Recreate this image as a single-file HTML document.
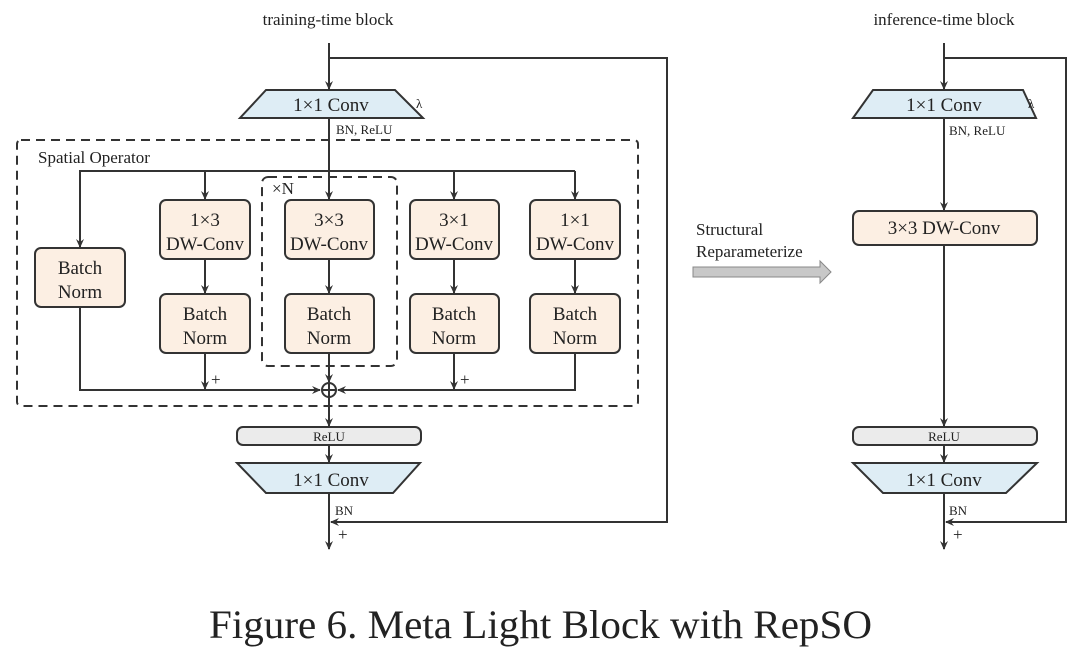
<!DOCTYPE html>
<html><head><meta charset="utf-8"><style>
html,body{margin:0;padding:0;background:#fff;}
svg{display:block;}
text{font-family:"Liberation Serif",serif;fill:#222;}
</style></head><body>
<svg width="1080" height="651" viewBox="0 0 1080 651" xmlns="http://www.w3.org/2000/svg">
<defs>
<marker id="a" markerWidth="10" markerHeight="10" refX="8" refY="5" orient="auto" markerUnits="userSpaceOnUse">
<path d="M0,1 L9,5 L0,9 L3,5 Z" fill="#333"/>
</marker>
</defs>
<g stroke="#333" stroke-width="2" fill="none">
<!-- LEFT -->
<line x1="329" y1="43" x2="329" y2="89" marker-end="url(#a)"/>
<polyline points="329,58 667,58 667,522 331,522" marker-end="url(#a)"/>
<polygon points="266,90 395,90 423,118 240,118" fill="#deedf5"/>
<rect x="17" y="140" width="621" height="266" rx="4" stroke-dasharray="9,6"/>
<rect x="262" y="177" width="135" height="189" rx="6" stroke-dasharray="9,6"/>
<line x1="329" y1="118" x2="329" y2="199" marker-end="url(#a)"/>
<polyline points="80,247 80,171 575,171"/>
<line x1="80" y1="171" x2="80" y2="247" marker-end="url(#a)"/>
<line x1="205" y1="171" x2="205" y2="199" marker-end="url(#a)"/>
<line x1="454" y1="171" x2="454" y2="199" marker-end="url(#a)"/>
<line x1="575" y1="171" x2="575" y2="199" marker-end="url(#a)"/>
<g fill="#fcefe3">
<rect x="35" y="248" width="90" height="59" rx="6"/>
<rect x="160" y="200" width="90" height="59" rx="6"/>
<rect x="285" y="200" width="89" height="59" rx="6"/>
<rect x="410" y="200" width="89" height="59" rx="6"/>
<rect x="530" y="200" width="90" height="59" rx="6"/>
<rect x="160" y="294" width="90" height="59" rx="6"/>
<rect x="285" y="294" width="89" height="59" rx="6"/>
<rect x="410" y="294" width="89" height="59" rx="6"/>
<rect x="530" y="294" width="90" height="59" rx="6"/>
</g>
<line x1="205" y1="259" x2="205" y2="293" marker-end="url(#a)"/>
<line x1="329" y1="259" x2="329" y2="293" marker-end="url(#a)"/>
<line x1="454" y1="259" x2="454" y2="293" marker-end="url(#a)"/>
<line x1="575" y1="259" x2="575" y2="293" marker-end="url(#a)"/>
<polyline points="80,307 80,390 320,390" marker-end="url(#a)"/>
<polyline points="575,353 575,390 338,390" marker-end="url(#a)"/>
<line x1="205" y1="353" x2="205" y2="389" marker-end="url(#a)"/>
<line x1="454" y1="353" x2="454" y2="389" marker-end="url(#a)"/>
<line x1="329" y1="353" x2="329" y2="382" marker-end="url(#a)"/>
<circle cx="329" cy="390" r="7" fill="#fff"/>
<line x1="322" y1="390" x2="336" y2="390"/>
<line x1="329" y1="383" x2="329" y2="397"/>
<line x1="329" y1="397" x2="329" y2="426" marker-end="url(#a)"/>
<rect x="237" y="427" width="184" height="18" rx="6" fill="#ebebeb"/>
<line x1="329" y1="445" x2="329" y2="462" marker-end="url(#a)"/>
<polygon points="237,463 420,463 393,493 266,493" fill="#deedf5"/>
<line x1="329" y1="493" x2="329" y2="549" marker-end="url(#a)"/>
<!-- RIGHT -->
<line x1="944" y1="43" x2="944" y2="89" marker-end="url(#a)"/>
<polyline points="944,58 1066,58 1066,522 946,522" marker-end="url(#a)"/>
<polygon points="873,90 1023,90 1036,118 853,118" fill="#deedf5"/>
<line x1="944" y1="118" x2="944" y2="210" marker-end="url(#a)"/>
<rect x="853" y="211" width="184" height="34" rx="6" fill="#fcefe3"/>
<line x1="944" y1="245" x2="944" y2="426" marker-end="url(#a)"/>
<rect x="853" y="427" width="184" height="18" rx="6" fill="#ebebeb"/>
<line x1="944" y1="445" x2="944" y2="462" marker-end="url(#a)"/>
<polygon points="853,463 1037,463 1006,493 883,493" fill="#deedf5"/>
<line x1="944" y1="493" x2="944" y2="549" marker-end="url(#a)"/>
</g>
<!-- big arrow -->
<polygon points="693,267 820,267 820,261 831,272 820,283 820,277 693,277" fill="#c8c8c8" stroke="#888" stroke-width="1"/>
<!-- text -->
<g font-size="17" text-anchor="middle">
<text x="328" y="25">training-time block</text>
<text x="944" y="25">inference-time block</text>
</g>
<g font-size="19" text-anchor="middle">
<text x="331" y="111">1×1 Conv</text>
<text x="331" y="486">1×1 Conv</text>
<text x="944" y="111">1×1 Conv</text>
<text x="944" y="486">1×1 Conv</text>
<text x="944" y="234">3×3 DW-Conv</text>
<text x="80" y="274">Batch</text><text x="80" y="298">Norm</text>
<text x="205" y="226">1×3</text><text x="205" y="250">DW-Conv</text>
<text x="329" y="226">3×3</text><text x="329" y="250">DW-Conv</text>
<text x="454" y="226">3×1</text><text x="454" y="250">DW-Conv</text>
<text x="575" y="226">1×1</text><text x="575" y="250">DW-Conv</text>
<text x="205" y="320">Batch</text><text x="205" y="344">Norm</text>
<text x="329" y="320">Batch</text><text x="329" y="344">Norm</text>
<text x="454" y="320">Batch</text><text x="454" y="344">Norm</text>
<text x="575" y="320">Batch</text><text x="575" y="344">Norm</text>
</g>
<g font-size="13">
<text x="336" y="134">BN, ReLU</text>
<text x="949" y="135">BN, ReLU</text>
<text x="335" y="515">BN</text>
<text x="949" y="515">BN</text>
<text x="329" y="441" text-anchor="middle">ReLU</text>
<text x="944" y="441" text-anchor="middle">ReLU</text>
<text x="416" y="108">λ</text>
<text x="1028" y="108">λ</text>
</g>
<g font-size="17">
<text x="38" y="163">Spatial Operator</text>
<text x="272" y="194">×N</text>
<text x="211" y="385">+</text>
<text x="460" y="385">+</text>
<text x="338" y="540">+</text>
<text x="953" y="540">+</text>
<text x="696" y="235">Structural</text>
<text x="696" y="257">Reparameterize</text>
</g>
<text x="209" y="638" font-size="40" textLength="663" lengthAdjust="spacingAndGlyphs">Figure 6. Meta Light Block with RepSO</text>
</svg>
</body></html>
